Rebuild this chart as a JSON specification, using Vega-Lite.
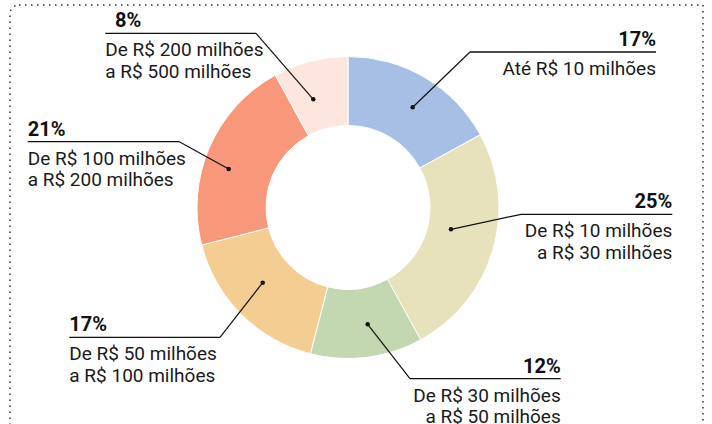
{
  "$schema": "https://vega.github.io/schema/vega-lite/v6.json",
  "width": 712,
  "height": 424,
  "padding": 0,
  "autosize": {"type": "none"},
  "background": "white",
  "config": {"view": {"stroke": null}, "font": "Roboto"},
  "datasets": {
    "slices": [
      {"ordem": 1, "faixa": "Até R$ 10 milhões", "pct": 17},
      {"ordem": 2, "faixa": "De R$ 10 milhões a R$ 30 milhões", "pct": 25},
      {"ordem": 3, "faixa": "De R$ 30 milhões a R$ 50 milhões", "pct": 12},
      {"ordem": 4, "faixa": "De R$ 50 milhões a R$ 100 milhões", "pct": 17},
      {"ordem": 5, "faixa": "De R$ 100 milhões a R$ 200 milhões", "pct": 21},
      {"ordem": 6, "faixa": "De R$ 200 milhões a R$ 500 milhões", "pct": 8}
    ],
    "callouts": [
      {"pct_label": "17%", "label": "Até R$ 10 milhões", "side": "right", "dot_x": 64.7, "dot_y": 100.2, "kink_x": 122, "kink_y": 155.5, "end_x": 308, "pct_x": 308},
      {"pct_label": "25%", "label": "De R$ 10 milhões\na R$ 30 milhões", "side": "right", "dot_x": 103, "dot_y": -21.8, "kink_x": 173, "kink_y": -6.8, "end_x": 324.3, "pct_x": 324.3},
      {"pct_label": "12%", "label": "De R$ 30 milhões\na R$ 50 milhões", "side": "right", "dot_x": 19.7, "dot_y": -116.8, "kink_x": 62, "kink_y": -171.2, "end_x": 212.7, "pct_x": 212.7},
      {"pct_label": "17%", "label": "De R$ 50 milhões\na R$ 100 milhões", "side": "left", "dot_x": -85.3, "dot_y": -75.2, "kink_x": -128, "kink_y": -129.8, "end_x": -278.7, "pct_x": -278.7},
      {"pct_label": "21%", "label": "De R$ 100 milhões\na R$ 200 milhões", "side": "left", "dot_x": -119.3, "dot_y": 38.5, "kink_x": -168.7, "kink_y": 65.8, "end_x": -320.3, "pct_x": -320.3},
      {"pct_label": "8%", "label": "De R$ 200 milhões\na R$ 500 milhões", "side": "left", "dot_x": -34.7, "dot_y": 108.2, "kink_x": -92, "kink_y": 174.2, "end_x": -242.7, "pct_x": -233}
    ],
    "frame": [{"left": -338, "right": 355, "top": 202.5, "bottom": -240}]
  },
  "layer": [
    {
      "data": {"name": "frame"},
      "mark": {"type": "rect", "fill": null, "fillOpacity": 0, "stroke": "#333333", "strokeWidth": 1.5, "strokeDash": [1.5, 4.5], "cornerRadiusTopLeft": 9, "cornerRadiusTopRight": 0, "cornerRadiusBottomLeft": 0, "cornerRadiusBottomRight": 0},
      "encoding": {
        "x": {"field": "left", "type": "quantitative", "scale": {"domain": [-348, 364], "nice": false, "zero": false}, "axis": null},
        "x2": {"field": "right"},
        "y": {"field": "top", "type": "quantitative", "scale": {"domain": [-216.5, 207.5], "nice": false, "zero": false}, "axis": null},
        "y2": {"field": "bottom"}
      }
    },
    {
      "data": {"name": "slices"},
      "mark": {"type": "arc", "innerRadius": 82, "outerRadius": 151, "stroke": "white", "strokeWidth": 1},
      "encoding": {
        "x": {"datum": 0, "type": "quantitative"},
        "y": {"datum": 0, "type": "quantitative"},
        "theta": {"field": "pct", "type": "quantitative", "stack": true},
        "order": {"field": "ordem", "type": "quantitative"},
        "color": {
          "field": "faixa", "type": "nominal", "legend": null,
          "scale": {
            "domain": ["Até R$ 10 milhões", "De R$ 10 milhões a R$ 30 milhões", "De R$ 30 milhões a R$ 50 milhões", "De R$ 50 milhões a R$ 100 milhões", "De R$ 100 milhões a R$ 200 milhões", "De R$ 200 milhões a R$ 500 milhões"],
            "range": ["#A7BFE4", "#E7E2BC", "#C3D7B1", "#F4CD92", "#F8977A", "#FDE6DD"]
          }
        }
      }
    },
    {
      "data": {"name": "callouts"},
      "mark": {"type": "rule", "color": "#111111", "strokeWidth": 1.2},
      "encoding": {
        "x": {"field": "dot_x", "type": "quantitative"},
        "y": {"field": "dot_y", "type": "quantitative"},
        "x2": {"field": "kink_x"},
        "y2": {"field": "kink_y"}
      }
    },
    {
      "data": {"name": "callouts"},
      "mark": {"type": "rule", "color": "#111111", "strokeWidth": 1.3},
      "encoding": {
        "x": {"field": "kink_x", "type": "quantitative"},
        "x2": {"field": "end_x"},
        "y": {"field": "kink_y", "type": "quantitative"}
      }
    },
    {
      "data": {"name": "callouts"},
      "mark": {"type": "point", "filled": true, "color": "#111111", "size": 20, "opacity": 1},
      "encoding": {
        "x": {"field": "dot_x", "type": "quantitative"},
        "y": {"field": "dot_y", "type": "quantitative"}
      }
    },
    {
      "data": {"name": "callouts"},
      "transform": [{"filter": {"field": "side", "equal": "right"}}],
      "mark": {"type": "text", "align": "right", "baseline": "alphabetic", "dy": -6, "fontSize": 20, "fontWeight": "bold", "color": "#111111"},
      "encoding": {
        "x": {"field": "pct_x", "type": "quantitative"},
        "y": {"field": "kink_y", "type": "quantitative"},
        "text": {"field": "pct_label", "type": "nominal"}
      }
    },
    {
      "data": {"name": "callouts"},
      "transform": [{"filter": {"field": "side", "equal": "left"}}],
      "mark": {"type": "text", "align": "left", "baseline": "alphabetic", "dy": -6, "fontSize": 20, "fontWeight": "bold", "color": "#111111"},
      "encoding": {
        "x": {"field": "pct_x", "type": "quantitative"},
        "y": {"field": "kink_y", "type": "quantitative"},
        "text": {"field": "pct_label", "type": "nominal"}
      }
    },
    {
      "data": {"name": "callouts"},
      "transform": [{"filter": {"field": "side", "equal": "right"}}],
      "mark": {"type": "text", "align": "right", "baseline": "alphabetic", "dy": 23, "fontSize": 19, "lineHeight": 21.5, "lineBreak": "\n", "color": "#1a1a1a"},
      "encoding": {
        "x": {"field": "end_x", "type": "quantitative"},
        "y": {"field": "kink_y", "type": "quantitative"},
        "text": {"field": "label", "type": "nominal"}
      }
    },
    {
      "data": {"name": "callouts"},
      "transform": [{"filter": {"field": "side", "equal": "left"}}],
      "mark": {"type": "text", "align": "left", "baseline": "alphabetic", "dy": 23, "fontSize": 19, "lineHeight": 21.5, "lineBreak": "\n", "color": "#1a1a1a"},
      "encoding": {
        "x": {"field": "end_x", "type": "quantitative"},
        "y": {"field": "kink_y", "type": "quantitative"},
        "text": {"field": "label", "type": "nominal"}
      }
    }
  ]
}
